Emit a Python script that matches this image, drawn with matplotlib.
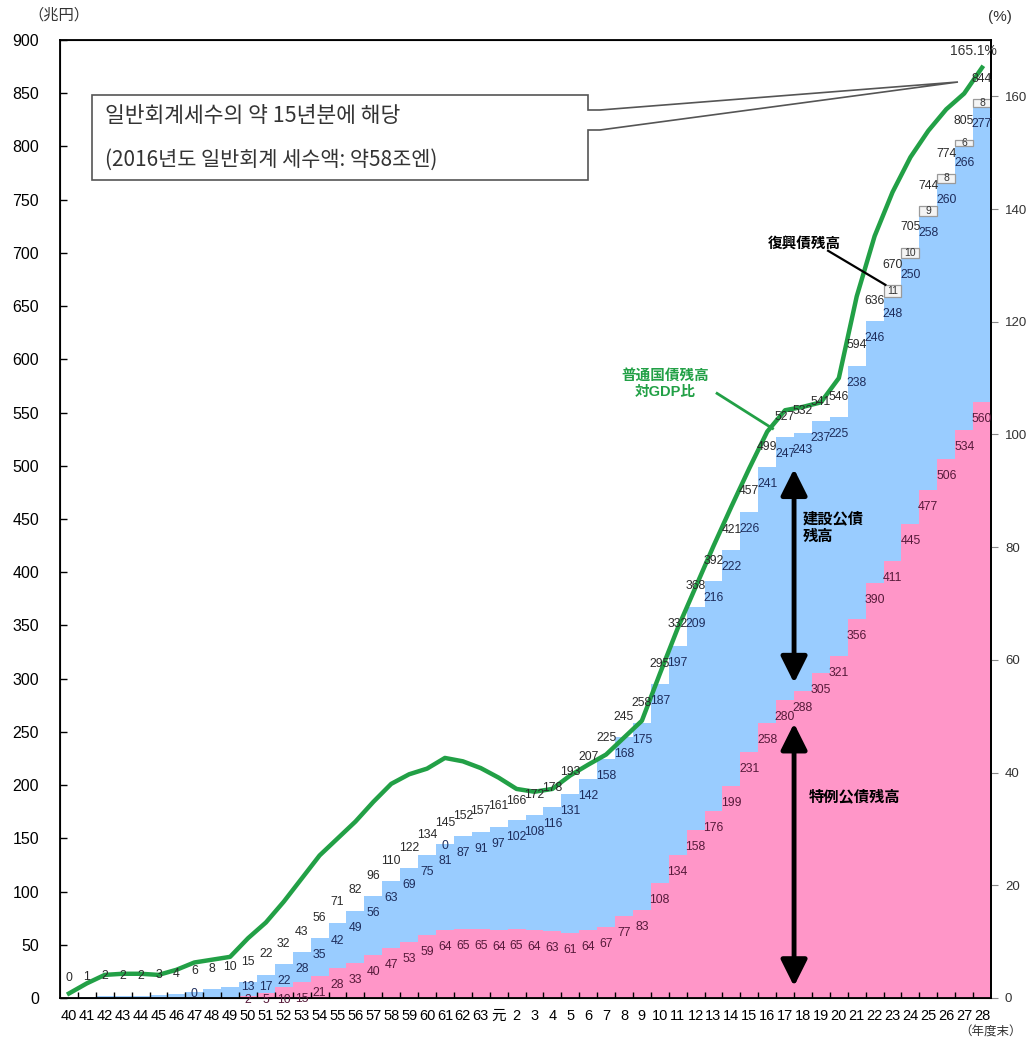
import numpy as np
import matplotlib
matplotlib.use('Agg')
import matplotlib.pyplot as plt
from matplotlib.patches import Polygon

plt.rcParams['font.family'] = ['Liberation Sans', 'Noto Sans CJK JP', 'DejaVu Sans']

# 年度（昭和40〜63、平成元〜28）
years = ['40', '41', '42', '43', '44', '45', '46', '47', '48', '49',
         '50', '51', '52', '53', '54', '55', '56', '57', '58', '59',
         '60', '61', '62', '63', '元', '2', '3', '4', '5', '6',
         '7', '8', '9', '10', '11', '12', '13', '14', '15', '16',
         '17', '18', '19', '20', '21', '22', '23', '24', '25', '26',
         '27', '28']

# 普通国債残高（兆円）
total = [0, 1, 2, 2, 2, 3, 4, 6, 8, 10,
         15, 22, 32, 43, 56, 71, 82, 96, 110, 122,
         134, 145, 152, 157, 161, 166, 172, 178, 193, 207,
         225, 245, 258, 295, 332, 368, 392, 421, 457, 499,
         527, 532, 541, 546, 594, 636, 670, 705, 744, 774,
         805, 844]

# 建設公債残高（兆円）
construction = [0, 1, 2, 2, 2, 3, 4, 6, 8, 10,
                13, 17, 22, 28, 35, 42, 49, 56, 63, 69,
                75, 81, 87, 91, 97, 102, 108, 116, 131, 142,
                158, 168, 175, 187, 197, 209, 216, 222, 226, 241,
                247, 243, 237, 225, 238, 246, 248, 250, 258, 260,
                266, 277]

# 特例公債残高（兆円）
deficit = [0, 0, 0, 0, 0, 0, 0, 0, 0, 0,
           2, 5, 10, 15, 21, 28, 33, 40, 47, 53,
           59, 64, 65, 65, 64, 65, 64, 63, 61, 64,
           67, 77, 83, 108, 134, 158, 176, 199, 231, 258,
           280, 288, 305, 321, 356, 390, 411, 445, 477, 506,
           534, 560]

# 復興債残高（兆円）
recon_years = ['23', '24', '25', '26', '27', '28']
recon = [11, 10, 9, 8, 6, 8]

zero_label_years = ['47', '61']

# 普通国債残高対GDP比（%）
gdp_ratio = [0.8, 2.6, 4.1, 4.3, 4.3, 4.1, 5.0, 6.3, 6.8, 7.3,
             10.6, 13.4, 17.1, 21.2, 25.3, 28.3, 31.3, 34.8, 38.0, 39.7,
             40.7, 42.6, 42.0, 40.8, 39.1, 37.1, 36.6, 37.1, 39.5, 41.4,
             43.2, 46.2, 49.2, 57.5, 65.6, 72.9, 80.2, 87.2, 94.0, 100.5,
             104.3, 104.9, 105.7, 110.0, 124.5, 135.2, 143.0, 149.2, 153.9, 157.7,
             160.5, 165.1]

blue = '#99ccff'
pink = '#ff96c8'
green = '#22a046'
c_total = '#2a2a2a'
c_blue = '#1e2d5c'
c_pink = '#561a3a'

x = np.arange(len(years))
first_lbl = years.index('50')

fig = plt.figure(figsize=(10.28, 10.42), dpi=100)
ax = fig.add_axes([60 / 1028, 1 - 998 / 1042, 931 / 1028, 958 / 1042])

ax.bar(x, deficit, width=1.0, color=pink, linewidth=0)
ax.bar(x, construction, bottom=deficit, width=1.0, color=blue, linewidth=0)
ri = np.array([years.index(y) for y in recon_years])
rbottom = np.array(deficit)[ri] + np.array(construction)[ri]
ax.bar(ri, recon, bottom=rbottom, width=1.0, color='#f4f4f4',
       edgecolor='#9a9a9a', linewidth=0.9)

ax.set_xlim(-0.5, len(years) - 0.5)
ax.set_ylim(0, 900)
ax.set_yticks(range(0, 901, 50))
ax.set_xticks(x)
ax.set_xticklabels(years)
ax.set_xticks(np.arange(0.5, len(years) - 1, 1.0), minor=True)
ax.tick_params(axis='x', which='major', length=0, labelsize=10.5, pad=8)
ax.tick_params(axis='x', which='minor', direction='in', length=4, width=1)
ax.tick_params(axis='y', direction='in', length=5, width=1, labelsize=11.5, pad=15)
for s in ax.spines.values():
    s.set_linewidth(1.3)
    s.set_color('black')

ax2 = ax.twinx()
ax2.set_ylim(0, 170)
ax2.set_yticks(range(0, 161, 20))
ax2.tick_params(axis='y', direction='out', length=5, color='#888888',
                labelsize=9.5, labelcolor='#333333', pad=5)
ax2.spines['right'].set_linewidth(1.3)
ax2.plot(x, gdp_ratio, color=green, lw=3.2, solid_joinstyle='round', zorder=3)

# 数値ラベル
td = ax.transData
for i in range(len(years)):
    ax2.text(i, total[i] + 19, str(total[i]), transform=td, ha='center', va='center',
             fontsize=8.8, color=c_total, zorder=5)
    if i >= first_lbl:
        top_b = deficit[i] + construction[i]
        ax2.text(i, max(top_b - 16, 10), str(construction[i]), transform=td,
                 ha='center', va='center', fontsize=8.8, color=c_blue, zorder=5)
        ax2.text(i, max(deficit[i] - 16, -2), str(deficit[i]), transform=td,
                 ha='center', va='center', fontsize=8.8, color=c_pink, zorder=5)
for y in zero_label_years:
    i = years.index(y)
    ax2.text(i, total[i] - 2, '0', transform=td, ha='center', va='center',
             fontsize=8.8, color=c_blue, zorder=5)
for i, b, v in zip(ri, rbottom, recon):
    ax2.text(i, b + v / 2, str(v), transform=td, ha='center', va='center',
             fontsize=7.5, color='#333333', zorder=5)

ax2.annotate('165.1%', xy=(x[-1], gdp_ratio[-1]), xytext=(-6, 7),
             textcoords='offset points', ha='center', va='bottom',
             fontsize=10, color='#333333', zorder=6)

# 吹き出し
ta = ax.transAxes
def axf(px, py):
    return ((px - 60) / 931, (998 - py) / 958)

callout = Polygon([axf(92, 95), axf(588, 95), axf(588, 110), axf(600, 110),
                   axf(958, 82), axf(600, 130), axf(588, 130), axf(588, 180),
                   axf(92, 180)], closed=True, transform=ta, facecolor='white',
                  edgecolor='#555555', linewidth=1.2, zorder=7)
ax2.add_patch(callout)
kr = ['Noto Sans CJK KR', 'DejaVu Sans']
ax2.text(*axf(105, 116), '일반회계세수의 약 15년분에 해당', transform=ta, ha='left',
         va='center', fontsize=15.5, color='#333333', family=kr, zorder=8)
ax2.text(*axf(105, 160), '(2016년도 일반회계 세수액: 약58조엔)', transform=ta, ha='left',
         va='center', fontsize=15, color='#333333', family=kr, zorder=8)

# 注記
ax2.text(41.1, 709, '復興債残高', transform=td, ha='center', va='center',
         fontsize=10.5, fontweight='bold', color='black', zorder=6)
ax2.plot([42.4, 45.6], [702, 670], transform=td, color='black', lw=1.6, zorder=6)

ax2.text(33.3, 577, '普通国債残高\n対GDP比', transform=td, ha='center', va='center',
         fontsize=10.5, fontweight='bold', color=green, linespacing=1.25, zorder=6)
ax2.plot([36.2, 39.3], [568, 535], transform=td, color=green, lw=2, zorder=6)

ax2.text(41.0, 442, '建設公債\n残高', transform=td, ha='left', va='center',
         fontsize=11, fontweight='bold', color='black', linespacing=1.3, zorder=6)
ax2.text(41.3, 189, '特例公債残高', transform=td, ha='left', va='center',
         fontsize=11, fontweight='bold', color='black', zorder=6)

arrow = dict(arrowstyle='<|-|>,head_length=0.8,head_width=0.4', mutation_scale=20,
             lw=3.5, color='black', shrinkA=0, shrinkB=0)
ax2.annotate('', xy=(40.5, 497), xytext=(40.5, 296), xycoords=td, textcoords=td,
             arrowprops=arrow, zorder=6)
ax2.annotate('', xy=(40.5, 258), xytext=(40.5, 11), xycoords=td, textcoords=td,
             arrowprops=arrow, zorder=6)

fig.text(28 / 1028, 1 - 15 / 1042, '（兆円）', ha='left', va='center', fontsize=11,
         color='#333333')
fig.text(1000 / 1028, 1 - 17 / 1042, '(%)', ha='center', va='center', fontsize=11,
         color='#333333')
fig.text(1022 / 1028, 1 - 1033 / 1042, '（年度末）', ha='right', va='center', fontsize=9,
         color='#333333')

fig.savefig('out.png', dpi=100)
